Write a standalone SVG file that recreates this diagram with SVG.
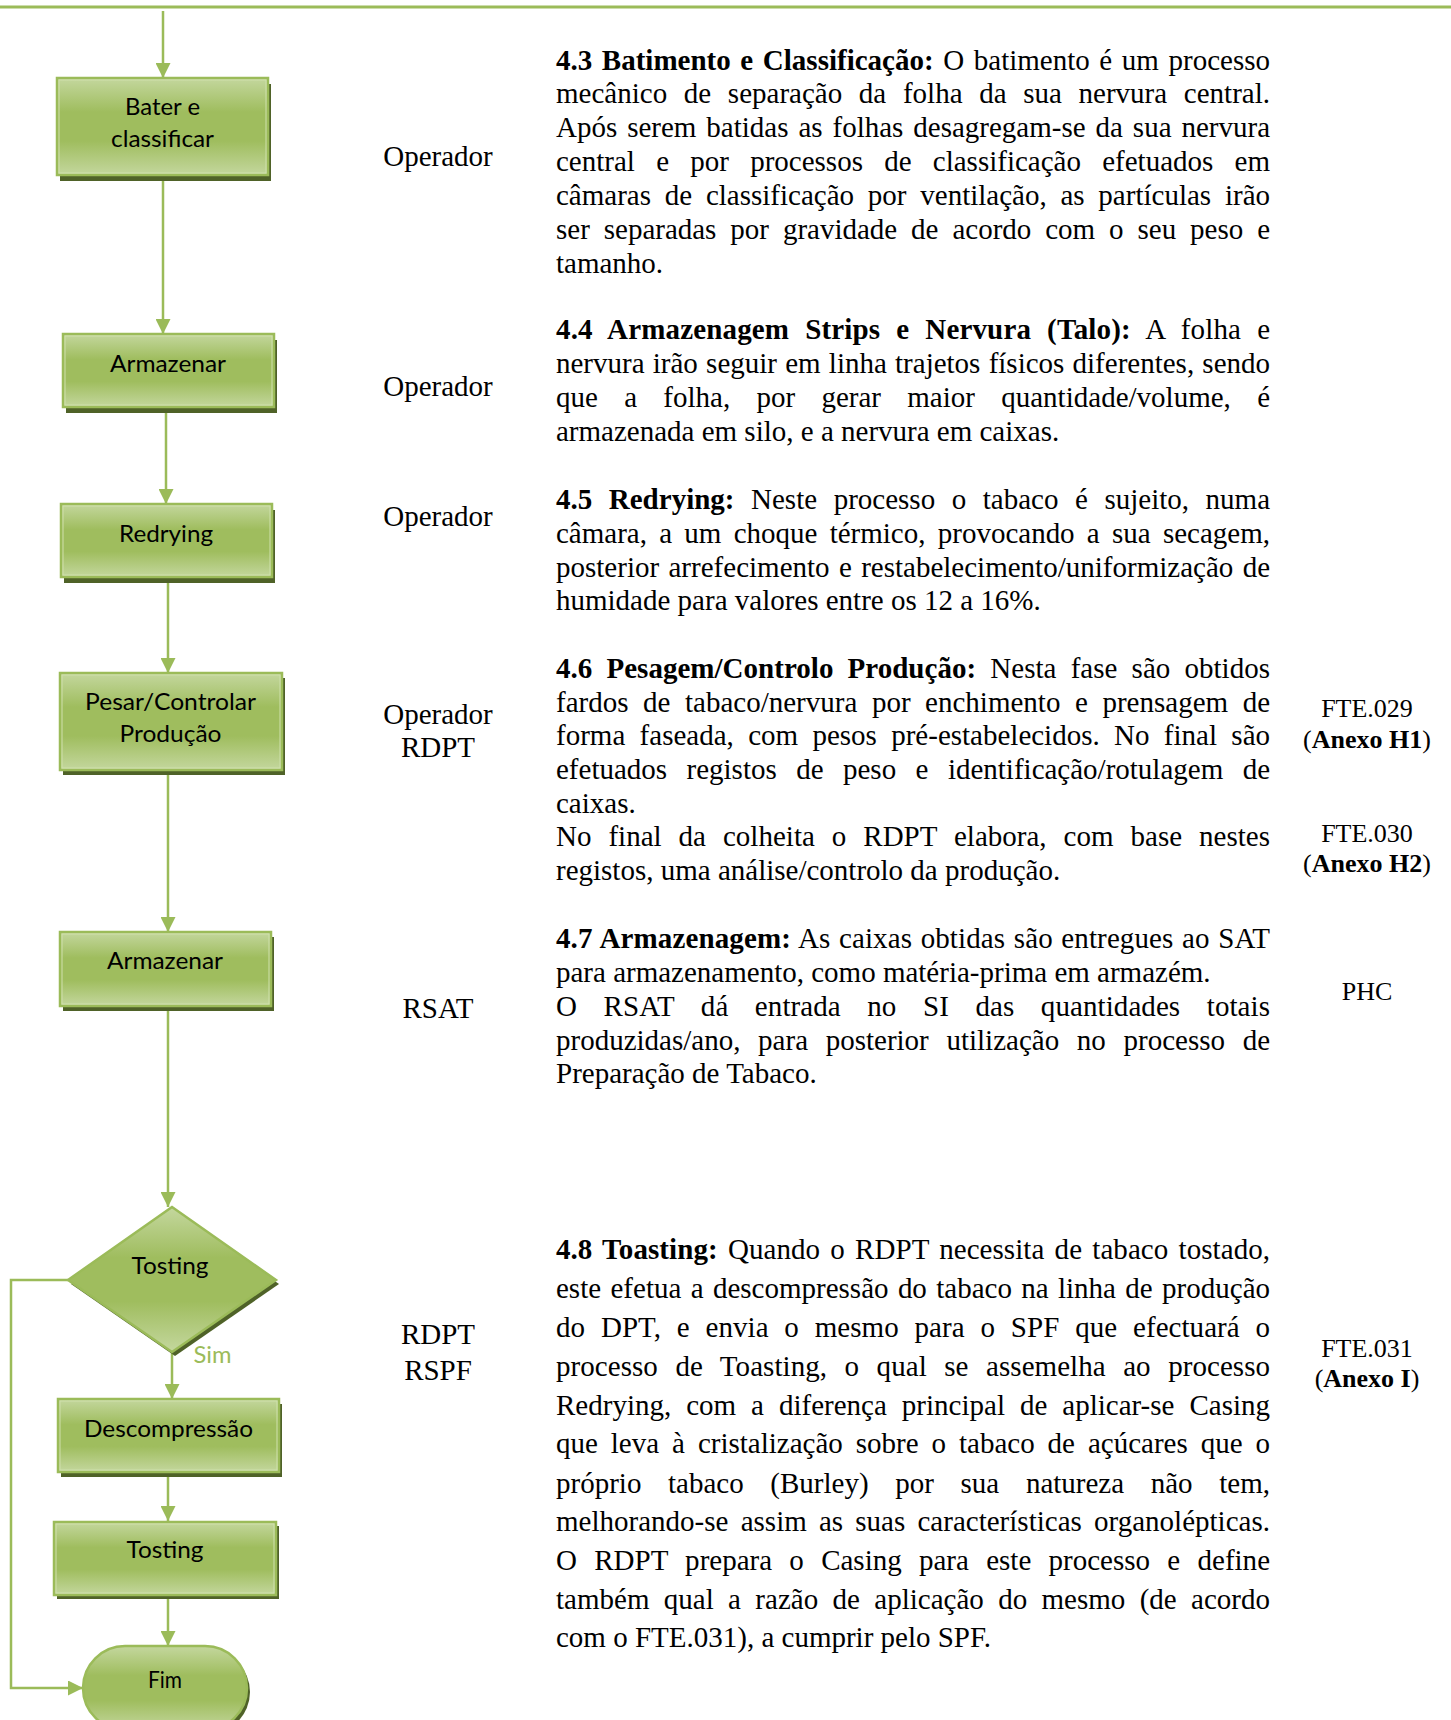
<svg xmlns="http://www.w3.org/2000/svg" width="1451" height="1720" viewBox="0 0 1451 1720">
<defs>
<linearGradient id="g" x1="0" y1="0" x2="0" y2="1">
<stop offset="0" stop-color="#c4d79e"/>
<stop offset="0.35" stop-color="#9fbd5e"/>
<stop offset="0.65" stop-color="#9fbd5e"/>
<stop offset="1" stop-color="#c4d79e"/>
</linearGradient>
<marker id="ah" markerUnits="userSpaceOnUse" markerWidth="15" markerHeight="15" refX="15" refY="7.5" orient="auto" viewBox="0 0 15 15">
<path d="M0,0 L15,7.5 L0,15 z" fill="#9bbb59"/>
</marker>
</defs>
<style>
.sh{fill:#4f6228}
.bx{fill:url(#g);stroke:#9bbb59;stroke-width:2.5}
.hl{fill:none;stroke:#cfe0ac;stroke-width:1}
.lb{font-family:Lato,"Open Sans",sans-serif;font-size:23.5px;fill:#000;text-anchor:middle}
.sim{font-family:Lato,"Open Sans",sans-serif;font-size:23.5px;fill:#9bbb59;text-anchor:middle}
.cn{fill:none;stroke:#9bbb59;stroke-width:2.5}
.tx{font-family:"Liberation Serif","Times New Roman",serif;font-size:29px;fill:#000}
.rc{font-family:"Liberation Serif","Times New Roman",serif;font-size:29px;fill:#000;text-anchor:middle}
.rr{font-family:"Liberation Serif","Times New Roman",serif;font-size:26px;fill:#000;text-anchor:middle}
.b{font-weight:bold}
</style>
<rect width="1451" height="1720" fill="#fff"/>
<line x1="0" y1="7" x2="1451" y2="7" stroke="#9bbb59" stroke-width="3"/>

<g id="connectors">
<line class="cn" x1="163" y1="11" x2="163" y2="78" marker-end="url(#ah)"/>
<line class="cn" x1="163" y1="175" x2="163" y2="334" marker-end="url(#ah)"/>
<line class="cn" x1="166" y1="407" x2="166" y2="504" marker-end="url(#ah)"/>
<line class="cn" x1="168" y1="577" x2="168" y2="673" marker-end="url(#ah)"/>
<line class="cn" x1="168" y1="770" x2="168" y2="932" marker-end="url(#ah)"/>
<line class="cn" x1="168" y1="1006" x2="168" y2="1207" marker-end="url(#ah)"/>
<line class="cn" x1="172" y1="1352" x2="172" y2="1399" marker-end="url(#ah)"/>
<line class="cn" x1="168" y1="1472" x2="168" y2="1521" marker-end="url(#ah)"/>
<line class="cn" x1="168" y1="1595" x2="168" y2="1646" marker-end="url(#ah)"/>
<polyline class="cn" points="68,1280 11,1280 11,1688 83,1688" marker-end="url(#ah)"/>
<text class="sim" x="212.5" y="1363" textLength="38" lengthAdjust="spacingAndGlyphs">Sim</text>
</g>

<g id="n1">
<rect class="sh" x="60" y="84" width="211" height="97"/>
<rect class="bx" x="57" y="78" width="211" height="97"/>
<rect class="hl" x="59" y="80" width="207" height="93"/>
<text class="lb" x="162.5" y="115" textLength="75" lengthAdjust="spacingAndGlyphs">Bater e</text>
<text class="lb" x="162.5" y="147" textLength="103" lengthAdjust="spacingAndGlyphs">classificar</text>
</g>
<g id="n2">
<rect class="sh" x="66" y="340" width="211" height="73"/>
<rect class="bx" x="63" y="334" width="211" height="73"/>
<rect class="hl" x="65" y="336" width="207" height="69"/>
<text class="lb" x="168" y="372" textLength="116" lengthAdjust="spacingAndGlyphs">Armazenar</text>
</g>
<g id="n3">
<rect class="sh" x="64" y="510" width="211" height="73"/>
<rect class="bx" x="61" y="504" width="211" height="73"/>
<rect class="hl" x="63" y="506" width="207" height="69"/>
<text class="lb" x="166" y="542" textLength="94" lengthAdjust="spacingAndGlyphs">Redrying</text>
</g>
<g id="n4">
<rect class="sh" x="63" y="678" width="222" height="97"/>
<rect class="bx" x="60" y="673" width="222" height="97"/>
<rect class="hl" x="62" y="675" width="218" height="93"/>
<text class="lb" x="170.5" y="710" textLength="171" lengthAdjust="spacingAndGlyphs">Pesar/Controlar</text>
<text class="lb" x="170.5" y="742" textLength="102" lengthAdjust="spacingAndGlyphs">Produção</text>
</g>
<g id="n5">
<rect class="sh" x="63" y="937" width="211" height="74"/>
<rect class="bx" x="60" y="932" width="211" height="74"/>
<rect class="hl" x="62" y="934" width="207" height="70"/>
<text class="lb" x="165" y="969" textLength="116" lengthAdjust="spacingAndGlyphs">Armazenar</text>
</g>
<g id="n6">
<polygon class="sh" points="175,1211 279,1284 175,1356 71,1284"/>
<polygon class="bx" points="172,1207 276,1280 172,1352 68,1280"/>
<text class="lb" x="170" y="1274" textLength="77" lengthAdjust="spacingAndGlyphs">Tosting</text>
</g>
<g id="n7">
<rect class="sh" x="61" y="1404" width="221" height="73"/>
<rect class="bx" x="58" y="1399" width="221" height="73"/>
<rect class="hl" x="60" y="1401" width="217" height="69"/>
<text class="lb" x="168.5" y="1437" textLength="169" lengthAdjust="spacingAndGlyphs">Descompressão</text>
</g>
<g id="n8">
<rect class="sh" x="57" y="1526" width="222" height="73"/>
<rect class="bx" x="54" y="1522" width="222" height="73"/>
<rect class="hl" x="56" y="1524" width="218" height="69"/>
<text class="lb" x="165" y="1558" textLength="77" lengthAdjust="spacingAndGlyphs">Tosting</text>
</g>
<g id="n9">
<rect class="sh" x="86" y="1650" width="164" height="84" rx="42"/>
<rect class="bx" x="83" y="1646" width="164" height="84" rx="42"/>
<text class="lb" x="165" y="1688" textLength="34" lengthAdjust="spacingAndGlyphs">Fim</text>
</g>

<g id="responsaveis">
<text class="rc" x="438" y="166">Operador</text>
<text class="rc" x="438" y="396">Operador</text>
<text class="rc" x="438" y="526">Operador</text>
<text class="rc" x="438" y="724">Operador</text>
<text class="rc" x="438" y="756.5">RDPT</text>
<text class="rc" x="438" y="1017.5">RSAT</text>
<text class="rc" x="438" y="1344">RDPT</text>
<text class="rc" x="438" y="1379.5">RSPF</text>
</g>

<g id="registos">
<text class="rr" x="1367" y="717">FTE.029</text>
<text class="rr" x="1367" y="748">(<tspan class="b">Anexo H1</tspan>)</text>
<text class="rr" x="1367" y="842">FTE.030</text>
<text class="rr" x="1367" y="872">(<tspan class="b">Anexo H2</tspan>)</text>
<text class="rr" x="1367" y="1000">PHC</text>
<text class="rr" x="1367" y="1356.5">FTE.031</text>
<text class="rr" x="1367" y="1387">(<tspan class="b">Anexo I</tspan>)</text>
</g>

<g id="p43">
<text class="tx" x="556" y="70" textLength="714" lengthAdjust="spacing" word-spacing="2.4"><tspan class="b">4.3 Batimento e Classificação:</tspan> O batimento é um processo</text>
<text class="tx" x="556" y="103" textLength="714" lengthAdjust="spacing" word-spacing="9.4">mecânico de separação da folha da sua nervura central.</text>
<text class="tx" x="556" y="137" textLength="714" lengthAdjust="spacing" word-spacing="2.7">Após serem batidas as folhas desagregam-se da sua nervura</text>
<text class="tx" x="556" y="171" textLength="714" lengthAdjust="spacing" word-spacing="14">central e por processos de classificação efetuados em</text>
<text class="tx" x="556" y="205" textLength="714" lengthAdjust="spacing" word-spacing="6.5">câmaras de classificação por ventilação, as partículas irão</text>
<text class="tx" x="556" y="239" textLength="714" lengthAdjust="spacing" word-spacing="6.7">ser separadas por gravidade de acordo com o seu peso e</text>
<text class="tx" x="556" y="273">tamanho.</text>
</g>

<g id="p44">
<text class="tx" x="556" y="338.5" textLength="714" lengthAdjust="spacing" word-spacing="8.6"><tspan class="b">4.4 Armazenagem Strips e Nervura (Talo):</tspan> A folha e</text>
<text class="tx" x="556" y="372.5" textLength="714" lengthAdjust="spacing" word-spacing="1">nervura irão seguir em linha trajetos físicos diferentes, sendo</text>
<text class="tx" x="556" y="406.5" textLength="714" lengthAdjust="spacing" word-spacing="19">que a folha, por gerar maior quantidade/volume, é</text>
<text class="tx" x="556" y="440.5">armazenada em silo, e a nervura em caixas.</text>
</g>

<g id="p45">
<text class="tx" x="556" y="508.5" textLength="714" lengthAdjust="spacing" word-spacing="9.3"><tspan class="b">4.5 Redrying:</tspan> Neste processo o tabaco é sujeito, numa</text>
<text class="tx" x="556" y="542.5" textLength="714" lengthAdjust="spacing" word-spacing="5">câmara, a um choque térmico, provocando a sua secagem,</text>
<text class="tx" x="556" y="576.5" textLength="714" lengthAdjust="spacing" word-spacing="2.1">posterior arrefecimento e restabelecimento/uniformização de</text>
<text class="tx" x="556" y="609.5">humidade para valores entre os 12 a 16%.</text>
</g>

<g id="p46">
<text class="tx" x="556" y="677.5" textLength="714" lengthAdjust="spacing" word-spacing="6.9"><tspan class="b">4.6 Pesagem/Controlo Produção:</tspan> Nesta fase são obtidos</text>
<text class="tx" x="556" y="711.5" textLength="714" lengthAdjust="spacing" word-spacing="7.3">fardos de tabaco/nervura por enchimento e prensagem de</text>
<text class="tx" x="556" y="744.5" textLength="714" lengthAdjust="spacing" word-spacing="7.1">forma faseada, com pesos pré-estabelecidos. No final são</text>
<text class="tx" x="556" y="778.5" textLength="714" lengthAdjust="spacing" word-spacing="12.2">efetuados registos de peso e identificação/rotulagem de</text>
<text class="tx" x="556" y="812.5">caixas.</text>
<text class="tx" x="556" y="845.5" textLength="714" lengthAdjust="spacing" word-spacing="9.7">No final da colheita o RDPT elabora, com base nestes</text>
<text class="tx" x="556" y="879.5">registos, uma análise/controlo da produção.</text>
</g>

<g id="p47">
<text class="tx" x="556" y="947.5" textLength="714" lengthAdjust="spacing" word-spacing="1.2"><tspan class="b">4.7 Armazenagem:</tspan> As caixas obtidas são entregues ao SAT</text>
<text class="tx" x="556" y="981.5">para armazenamento, como matéria-prima em armazém.</text>
<text class="tx" x="556" y="1015.5" textLength="714" lengthAdjust="spacing" word-spacing="19.2">O RSAT dá entrada no SI das quantidades totais</text>
<text class="tx" x="556" y="1049.5" textLength="714" lengthAdjust="spacing" word-spacing="10.4">produzidas/ano, para posterior utilização no processo de</text>
<text class="tx" x="556" y="1082.5">Preparação de Tabaco.</text>
</g>

<g id="p48">
<text class="tx" x="556" y="1258.5" textLength="714" lengthAdjust="spacing" word-spacing="2.9"><tspan class="b">4.8 Toasting:</tspan> Quando o RDPT necessita de tabaco tostado,</text>
<text class="tx" x="556" y="1298" textLength="714" lengthAdjust="spacing" word-spacing="2.1">este efetua a descompressão do tabaco na linha de produção</text>
<text class="tx" x="556" y="1336.5" textLength="714" lengthAdjust="spacing" word-spacing="8.5">do DPT, e envia o mesmo para o SPF que efectuará o</text>
<text class="tx" x="556" y="1375.5" textLength="714" lengthAdjust="spacing" word-spacing="10.2">processo de Toasting, o qual se assemelha ao processo</text>
<text class="tx" x="556" y="1414.5" textLength="714" lengthAdjust="spacing" word-spacing="7.7">Redrying, com a diferença principal de aplicar-se Casing</text>
<text class="tx" x="556" y="1452.5" textLength="714" lengthAdjust="spacing" word-spacing="5.7">que leva à cristalização sobre o tabaco de açúcares que o</text>
<text class="tx" x="556" y="1492.5" textLength="714" lengthAdjust="spacing" word-spacing="19.4">próprio tabaco (Burley) por sua natureza não tem,</text>
<text class="tx" x="556" y="1530.5" textLength="714" lengthAdjust="spacing" word-spacing="4.9">melhorando-se assim as suas características organolépticas.</text>
<text class="tx" x="556" y="1569.5" textLength="714" lengthAdjust="spacing" word-spacing="10">O RDPT prepara o Casing para este processo e define</text>
<text class="tx" x="556" y="1608.5" textLength="714" lengthAdjust="spacing" word-spacing="7.1">também qual a razão de aplicação do mesmo (de acordo</text>
<text class="tx" x="556" y="1646.5">com o FTE.031), a cumprir pelo SPF.</text>
</g>
</svg>
